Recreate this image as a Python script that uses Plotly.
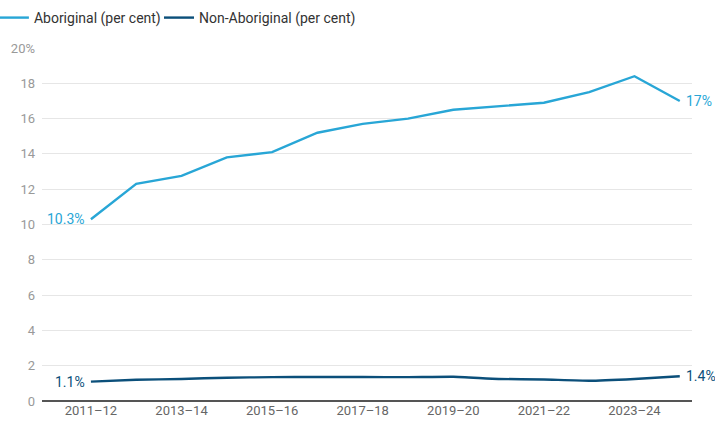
import plotly.graph_objects as go

years = ["2011–12", "2012–13", "2013–14", "2014–15", "2015–16", "2016–17", "2017–18",
         "2018–19", "2019–20", "2020–21", "2021–22", "2022–23", "2023–24", "2024–25"]
aboriginal = [10.3, 12.3, 12.75, 13.8, 14.1, 15.2, 15.7, 16.0, 16.5, 16.7, 16.9, 17.5, 18.4, 17.0]
non_aboriginal = [1.1, 1.2, 1.25, 1.32, 1.35, 1.36, 1.36, 1.35, 1.37, 1.25, 1.22, 1.15, 1.25, 1.4]
y_ticks = [0, 2, 4, 6, 8, 10, 12, 14, 16, 18, 20]
y_tick_labels = ["0", "2", "4", "6", "8", "10", "12", "14", "16", "18", "20%"]

ABO = "#28a6d6"
NON = "#0b4f7a"

fig = go.Figure()
fig.add_trace(go.Scatter(x=years, y=aboriginal, name="Aboriginal (per cent)",
                         mode="lines", line=dict(color=ABO, width=2.4), legend="legend"))
fig.add_trace(go.Scatter(x=years, y=non_aboriginal, name="Non-Aboriginal (per cent)",
                         mode="lines", legend="legend2",
                         line=dict(color=NON, width=2.4, shape="spline", smoothing=0.4)))

# end labels
for vals, col, first, last in [(aboriginal, ABO, "10.3%", "17%"),
                               (non_aboriginal, NON, "1.1%", "1.4%")]:
    fig.add_annotation(x=years[0], y=vals[0], text=first, showarrow=False,
                       xanchor="right", xshift=-4, font=dict(color=col, size=14))
    fig.add_annotation(x=years[-1], y=vals[-1], text=last, showarrow=False,
                       xanchor="left", xshift=4, font=dict(color=col, size=14))

leg = dict(orientation="h", y=1.085, xanchor="left", yanchor="middle",
           font=dict(size=14, color="#333333"), itemwidth=30, bgcolor="rgba(0,0,0,0)")

fig.update_layout(
    width=715, height=428,
    margin=dict(l=42, r=23, t=48, b=27, autoexpand=False),
    paper_bgcolor="white", plot_bgcolor="white",
    font=dict(family="Roboto", size=13, color="#777777"),
    showlegend=True,
    legend=dict(leg, x=-0.074),
    legend2=dict(leg, x=0.18),
    xaxis=dict(tickvals=years[::2], range=[-1.08, 13.27], showgrid=False,
               ticks="", tickfont=dict(size=13, color="#666666")),
    yaxis=dict(range=[0, 20], tickvals=y_ticks, ticktext=y_tick_labels,
               showgrid=True, gridcolor="#e6e6e6", gridwidth=1,
               zeroline=True, zerolinecolor="#555555", zerolinewidth=2,
               ticks="", ticklabelstandoff=6, tickfont=dict(size=13, color="#999999")),
)

# drop the default page margin so the figure fills the window
fig.write_html("out.html", config={"displayModeBar": False},
               post_script="document.body.style.margin='0';document.body.style.overflow='hidden';")
